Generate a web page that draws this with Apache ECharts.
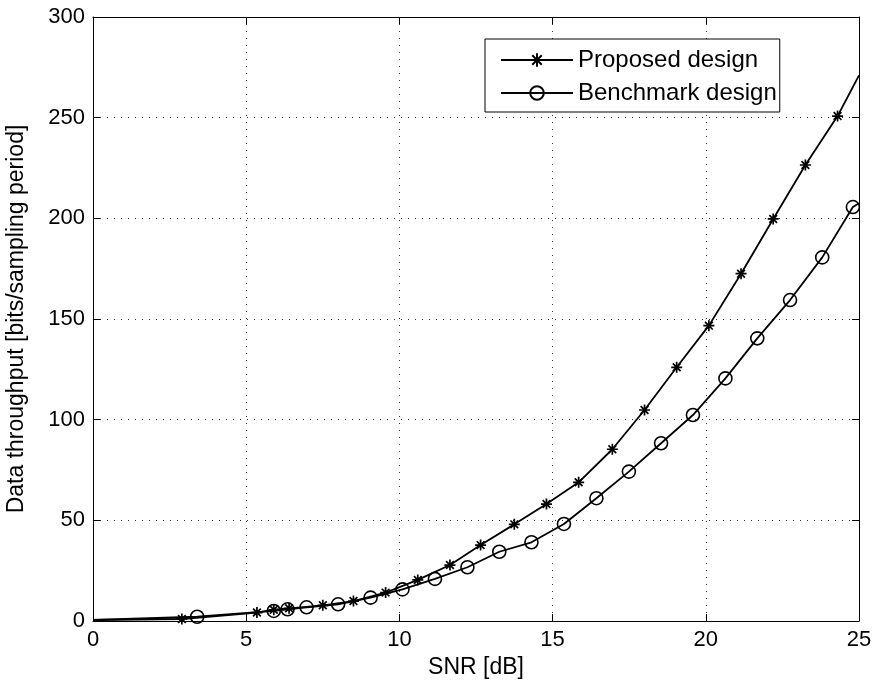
<!DOCTYPE html>
<html>
<head>
<meta charset="utf-8">
<title>Data throughput vs SNR</title>
<script src="https://cdn.jsdelivr.net/npm/echarts@6/dist/echarts.min.js"></script>
<style>
  html, body { margin: 0; padding: 0; background: #fff; }
  #chart { width: 875px; height: 686px; }
</style>
</head>
<body>
<div id="chart"></div>
<script>
// 数据：从图上读出来的点 (首尾两个点只画线，不画标记)
var proposedX = [0, 2.9, 5.35, 5.9, 6.4, 7.5, 8.5, 9.55, 10.6, 11.65, 12.65, 13.75, 14.8, 15.85, 16.95, 18, 19.05, 20.1, 21.15, 22.2, 23.25, 24.3, 25]
var proposedY = [0.5, 1, 4.2, 5.6, 6.3, 7.8, 9.9, 14.1, 20.4, 27.8, 37.7, 48, 58.1, 68.9, 85.3, 104.8, 126, 146.7, 172.5, 199.7, 226.5, 250.8, 271]
var benchX = [0, 3.4, 5.9, 6.35, 6.97, 8.0, 9.06, 10.1, 11.16, 12.22, 13.26, 14.31, 15.37, 16.43, 17.49, 18.54, 19.58, 20.64, 21.68, 22.75, 23.8, 24.8, 25]
var benchY = [0.5, 2.1, 5, 5.8, 6.8, 8.3, 11.6, 15.7, 20.9, 26.7, 34.4, 39.1, 48.2, 61, 74.2, 88.3, 102.3, 120.5, 140.4, 159.4, 180.6, 205.6, 207.5]
var seriesNames = ['Proposed design', 'Benchmark design']
var xTicks = [0, 5, 10, 15, 20, 25]
var yTicks = [0, 50, 100, 150, 200, 250, 300]

var font = 'Liberation Sans, Arial, Helvetica, sans-serif'
// matlab 的 * 号标记
var starPath = 'path://M5 0L5 10M0 5L10 5M1.5 1.5L8.5 8.5M1.5 8.5L8.5 1.5'

// 把 x/y 拼成点，首尾不显示标记
function makeData(xs, ys) {
  var last = xs.length - 1
  return xs.map(function(x, i) {
    if (i === 0 || i === last) return { value: [x, ys[i]], symbol: 'none' }
    return [x, ys[i]]
  })
}

var gridLine = { show: true, lineStyle: { color: '#333', width: 1, type: [1, 6] } }

function mainAxis(ticks, extra) {
  var ax = {
    type: 'value',
    min: ticks[0],
    max: ticks[ticks.length - 1],
    interval: ticks[1] - ticks[0],
    axisLine: { show: true, onZero: false, lineStyle: { color: '#000', width: 1 } },
    axisTick: { show: true, inside: true, length: 7, lineStyle: { color: '#000' } },
    axisLabel: { color: '#000', fontSize: 22, fontFamily: font, margin: 8 },
    splitLine: gridLine,
    nameTextStyle: { color: '#000', fontSize: 23, fontFamily: font }
  }
  for (var k in extra) ax[k] = extra[k]
  return ax
}

// 上边和右边只画刻度，不画文字
function mirrorAxis(ticks, pos) {
  return {
    type: 'value',
    position: pos,
    min: ticks[0],
    max: ticks[ticks.length - 1],
    interval: ticks[1] - ticks[0],
    axisLine: { show: true, onZero: false, lineStyle: { color: '#000', width: 1 } },
    axisTick: { show: true, inside: true, length: 7, lineStyle: { color: '#000' } },
    axisLabel: { show: false },
    splitLine: { show: false }
  }
}

var myChart = echarts.init(document.getElementById('chart'))
var option = {
  animation: false,
  backgroundColor: '#fff',
  // 固定绘图区，不让 v6 自动收缩
  grid: { left: 93, top: 17, right: 16, bottom: 65, show: false, outerBoundsMode: 'none', containLabel: false },
  legend: {
    orient: 'vertical',
    left: 485,
    top: 39,
    padding: [9, 3, 7, 15],
    itemWidth: 72,
    itemHeight: 17,
    itemGap: 9,
    backgroundColor: '#fff',
    borderColor: '#000',
    borderWidth: 1,
    textStyle: { color: '#000', fontSize: 24, fontFamily: font },
    data: seriesNames
  },
  xAxis: [
    mainAxis(xTicks, { position: 'bottom', name: 'SNR [dB]', nameLocation: 'middle', nameGap: 33 }),
    mirrorAxis(xTicks, 'top')
  ],
  yAxis: [
    mainAxis(yTicks, { position: 'left', name: 'Data throughput [bits/sampling period]', nameLocation: 'middle', nameGap: 65 }),
    mirrorAxis(yTicks, 'right')
  ],
  series: [{
    name: seriesNames[0],
    type: 'line',
    data: makeData(proposedX, proposedY),
    symbol: starPath,
    symbolSize: 11,
    showAllSymbol: true,
    lineStyle: { color: '#000', width: 1.8 },
    itemStyle: { color: '#000', borderColor: '#000', borderWidth: 1.7 },
    z: 3
  }, {
    name: seriesNames[1],
    type: 'line',
    data: makeData(benchX, benchY),
    symbol: 'circle',
    symbolSize: 13,
    showAllSymbol: true,
    lineStyle: { color: '#000', width: 1.8 },
    itemStyle: { color: 'rgba(0,0,0,0)', borderColor: '#000', borderWidth: 1.6 },
    z: 2
  }]
}
myChart.setOption(option)
</script>
</body>
</html>
